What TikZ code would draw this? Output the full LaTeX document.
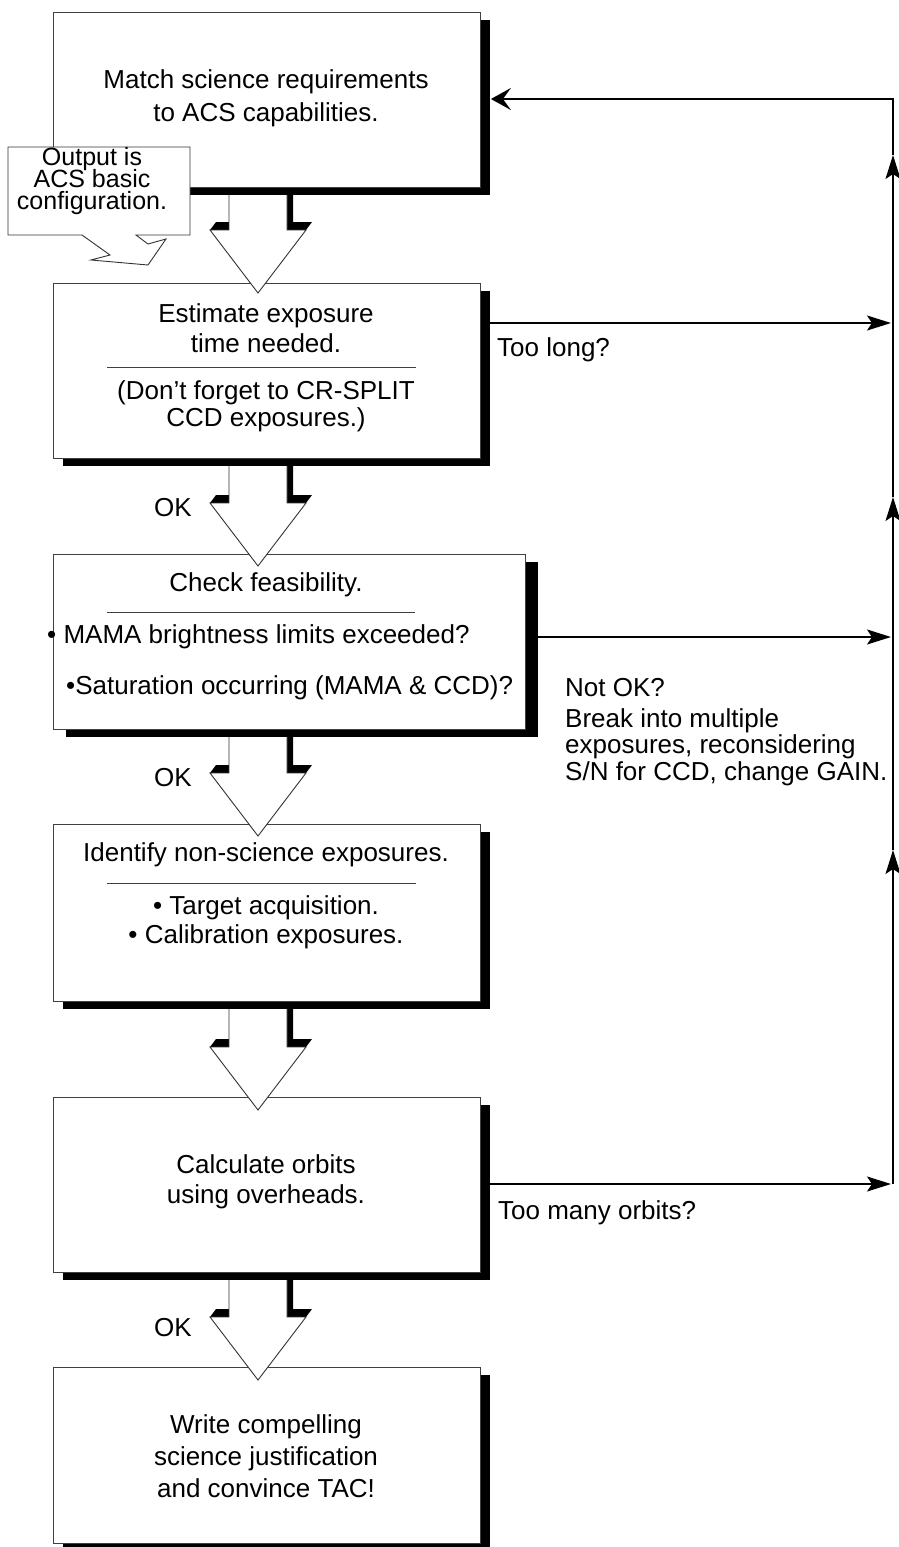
\documentclass[tikz,border=0pt]{standalone}
\usepackage{fontspec}
\setmainfont{Liberation Sans}
\usetikzlibrary{arrows.meta,shadows,calc}

\newcommand\blkarrow[2]{%
  % #1 = top of shaft (bottom of box shadow), #2 = y of the wings
  \fill[black] (287,#1) -- (293,#1) -- (293,{#2-8}) -- (312,{#2-8}) -- (306,#2) -- (287,#2) -- cycle;
  \fill[black] (210,#2) -- (216,{#2-8}) -- (229,{#2-8}) -- (229,#2) -- cycle;
  \fill[white] (229,#1) -- (229,#2) -- (210,#2) -- (258,{#2+63}) -- (306,#2) -- (287,#2) -- (287,#1) -- cycle;
  \draw[edge] (229,#1) -- (229,#2) -- (210,#2) -- (258,{#2+63}) -- (306,#2) -- (287,#2) -- (287,#1);
}

\begin{document}
\lineskiplimit=-100pt\relax
\begin{tikzpicture}[x=1pt,y=-1pt,
  edge/.style={draw=black!80, line width=0.9pt, line join=miter},
  box/.style={draw=black!75, line width=0.9pt, fill=white, rectangle, inner sep=0pt,
    anchor=north west, minimum height=175pt, minimum width=427pt,
    drop shadow={shadow xshift=#1, shadow yshift=-8pt, fill=black, opacity=1}},
  box/.default=10pt,
  txt/.style={font=\fontsize{26}{#1}\selectfont, align=center, inner sep=0pt},
  txt/.default=31,
  conn/.style={line width=1.6pt, -{Stealth[length=24pt,width=15pt,inset=5pt]}},
  topconn/.style={line width=1.6pt, -{Stealth[length=20pt,width=22pt,inset=8pt]}},
  sepline/.style={draw=black!75, line width=0.9pt}]

\useasboundingbox (0,0) rectangle (898,1547);

% boxes
\node[box] (b1) at (53,12) {};
\node[box] (b2) at (53,283) {};
\node[box=13pt, minimum width=472pt] (b3) at (53,554) {};
\node[box, minimum height=177pt] (b4) at (53,824) {};
\node[box] (b5) at (53,1097) {};
\node[box, minimum height=176pt] (b6) at (53,1367) {};

% block arrows
\blkarrow{195}{230}
\blkarrow{466}{503}
\blkarrow{737}{773}
\blkarrow{1009}{1047}
\blkarrow{1280}{1317}

% separators
\draw[sepline] (107,367) -- (416,367);
\draw[sepline] (107,612) -- (415,612);
\draw[sepline] (107,883) -- (416,883);

% box texts
\node[txt=33] (t1) at (266,98.5) {Match science requirements\\to ACS capabilities.};
\node[txt=30] (t2a) at (266,328) {Estimate exposure\\time needed.};
\node[txt=27] (t2b) at (266,406.5) {(Don’t forget to CR-SPLIT\\CCD exposures.)};
\node[txt] (t3a) at (266,585) {Check feasibility.};
\node[txt, anchor=west] (t3b) at (47,637) {• MAMA brightness limits exceeded?};
\node[txt, anchor=west] (t3c) at (66,688) {•Saturation occurring (MAMA \& CCD)?};
\node[txt] (t4a) at (266,855) {Identify non-science exposures.};
\node[txt=29] (t4b) at (266,922.5) {• Target acquisition.\\• Calibration exposures.};
\node[txt=30] (t5) at (266,1182) {Calculate orbits\\using overheads.};
\node[txt=32] (t6) at (266,1456) {Write compelling\\science justification\\and convince TAC!};

% OK labels
\node[txt] (ok1) at (173,508) {OK};
\node[txt] (ok2) at (173,778) {OK};
\node[txt] (ok3) at (173,1328) {OK};

% callout
\draw[edge, fill=white] (8,147) -- (190,147) -- (190,235) -- (136,235) -- (148,244) -- (166,239)
  -- (148,265) -- (91,260) -- (110,255) -- (82,235) -- (8,235) -- cycle;
\node[font=\fontsize{25}{22}\selectfont, align=center, inner sep=0pt] (co) at (92,181) {Output is\\ACS basic\\configuration.};

% feedback bus
\coordinate (top) at (893,99);
\coordinate (u3) at (893,155);
\coordinate (u2) at (893,497);
\coordinate (u1) at (893,850);
\coordinate (jA) at (893,323);
\coordinate (jB) at (893,637);
\coordinate (jC) at (893,1184);

\draw[conn, shorten >=2pt] (b2.east |- jA) -- (jA);
\draw[conn, shorten >=2pt] (b3.east |- jB) -- (jB);
\draw[conn, shorten >=2pt] (b5.east |- jC) -- (jC);
\draw[conn] (jC) -- (u1);
\draw[conn] (u1) -- (u2);
\draw[conn] (u2) -- (u3);
\draw[topconn] (u3) -- (top) -- ([xshift=10pt]b1.east |- top);

% labels
\node[txt, anchor=west] (l1) at (497,350) {Too long?};
\node[txt, anchor=west] (l2) at (565,688) {Not OK?};
\node[txt=26.5, anchor=west, align=left] (l3) at (565,747) {Break into multiple\\exposures, reconsidering\\S/N for CCD, change GAIN.};
\node[txt, anchor=west] (l4) at (498,1213) {Too many orbits?};

\end{tikzpicture}
\end{document}
